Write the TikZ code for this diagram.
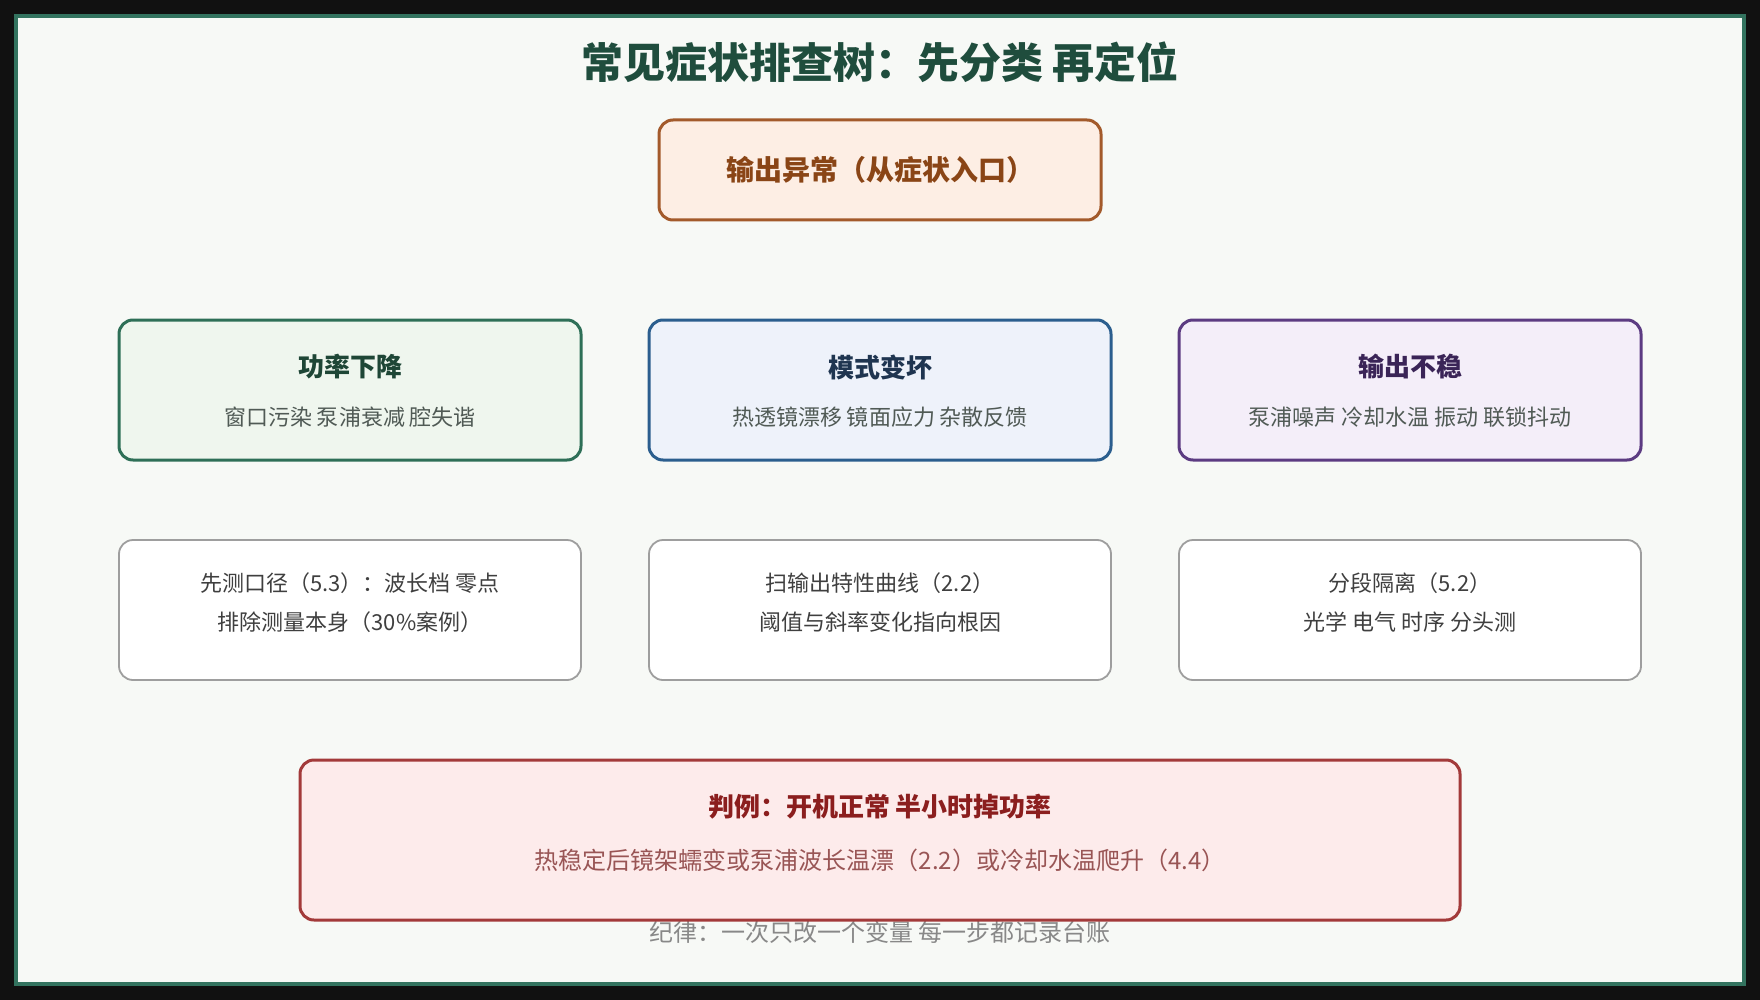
\documentclass[tikz,border=0pt]{standalone}
\usepackage{fontspec}
\setmainfont{Noto Sans CJK SC}
\usetikzlibrary{positioning}

\definecolor{bgdark}{HTML}{111111}
\definecolor{framegreen}{HTML}{33735F}
\definecolor{paper}{HTML}{F7F9F6}
\definecolor{titlegreen}{HTML}{1F4D3D}
\definecolor{entryline}{HTML}{A35A2B}
\definecolor{entryfill}{HTML}{FDEEE4}
\definecolor{entrytext}{HTML}{8A4516}
\definecolor{powerline}{HTML}{2E6F57}
\definecolor{powerfill}{HTML}{EFF6EE}
\definecolor{powertext}{HTML}{1E4636}
\definecolor{modeline}{HTML}{2B5E8E}
\definecolor{modefill}{HTML}{EEF2FA}
\definecolor{modetext}{HTML}{1F3550}
\definecolor{jitterline}{HTML}{5C3B82}
\definecolor{jitterfill}{HTML}{F4EEF9}
\definecolor{jittertext}{HTML}{3A2457}
\definecolor{subgray}{HTML}{505A55}
\definecolor{checkline}{HTML}{9E9E9E}
\definecolor{checktext}{HTML}{3F3F3F}
\definecolor{caseline}{HTML}{A33A3A}
\definecolor{casefill}{HTML}{FDEBEB}
\definecolor{casetext}{HTML}{8B1E1E}
\definecolor{casesub}{HTML}{995555}
\definecolor{footgray}{HTML}{888888}

\tikzset{
  box/.style={draw, rounded corners=14pt, line width=3pt, minimum width=462pt,
    minimum height=140pt, inner sep=0pt},
  head/.style={font=\fontsize{26}{30}\selectfont\bfseries, inner sep=0pt},
  body/.style={font=\fontsize{22}{26}\selectfont, inner sep=0pt},
  checkbox/.style={box, line width=1.8pt, draw=checkline, fill=white},
}

\begin{document}
\begin{tikzpicture}[x=1pt,y=-1pt]
    \useasboundingbox (0,0) rectangle (1760,1000);
    \fill[bgdark] (0,0) rectangle (1760,1000);
    \draw[framegreen, line width=4pt, fill=paper] (16,16) rectangle (1744,984);

    \node[font=\fontsize{42}{48}\selectfont\bfseries, text=titlegreen, inner sep=0pt]
        (title) at (880,62) {常见症状排查树：先分类 再定位};

    % entry
    \node[box, minimum width=442pt, minimum height=100pt, draw=entryline, fill=entryfill]
        (entry) at (880,170) {};
    \node[head, font=\fontsize{28}{32}\selectfont\bfseries, text=entrytext] (entryhead)
        at (entry.center) {输出异常（从症状入口）};

    % symptom classes
    \node[box, draw=powerline, fill=powerfill] (power) at (350,390) {};
    \node[head, text=powertext] (powerhead) at (350,367) {功率下降};
    \node[body, text=subgray] (powerbody) at (350,417) {窗口污染 泵浦衰减 腔失谐};

    \node[box, draw=modeline, fill=modefill] (mode) at (880,390) {};
    \node[head, text=modetext] (modehead) at (880,367) {模式变坏};
    \node[body, text=subgray] (modebody) at (880,417) {热透镜漂移 镜面应力 杂散反馈};

    \node[box, draw=jitterline, fill=jitterfill] (jitter) at (1410,390) {};
    \node[head, text=jittertext] (jitterhead) at (1410,367) {输出不稳};
    \node[body, text=subgray] (jitterbody) at (1410,417) {泵浦噪声 冷却水温 振动 联锁抖动};

    % first checks
    \node[checkbox] (checkA) at (350,610) {};
    \node[body, text=checktext] (checkAone) at (350,583) {先测口径（5.3）：波长档 零点};
    \node[body, text=checktext] (checkAtwo) at (350,622) {排除测量本身（30\%案例）};

    \node[checkbox] (checkB) at (880,610) {};
    \node[body, text=checktext] (checkBone) at (880,583) {扫输出特性曲线（2.2）};
    \node[body, text=checktext] (checkBtwo) at (880,622) {阈值与斜率变化指向根因};

    \node[checkbox] (checkC) at (1410,610) {};
    \node[body, text=checktext] (checkCone) at (1410,583) {分段隔离（5.2）};
    \node[body, text=checktext] (checkCtwo) at (1410,622) {光学 电气 时序 分头测};

    % footer sits under the case box
    \node[font=\fontsize{24}{28}\selectfont, text=footgray, inner sep=0pt]
        (rule) at (880,932) {纪律：一次只改一个变量 每一步都记录台账};

    % worked case
    \node[box, minimum width=1160pt, minimum height=160pt, draw=caseline, fill=casefill]
        (case) at (880,840) {};
    \node[head, text=casetext] (casehead) at (880,807) {判例：开机正常 半小时掉功率};
    \node[body, font=\fontsize{24}{28}\selectfont, text=casesub] (casebody) at (880,860)
        {热稳定后镜架蠕变或泵浦波长温漂（2.2）或冷却水温爬升（4.4）};
\end{tikzpicture}
\end{document}
